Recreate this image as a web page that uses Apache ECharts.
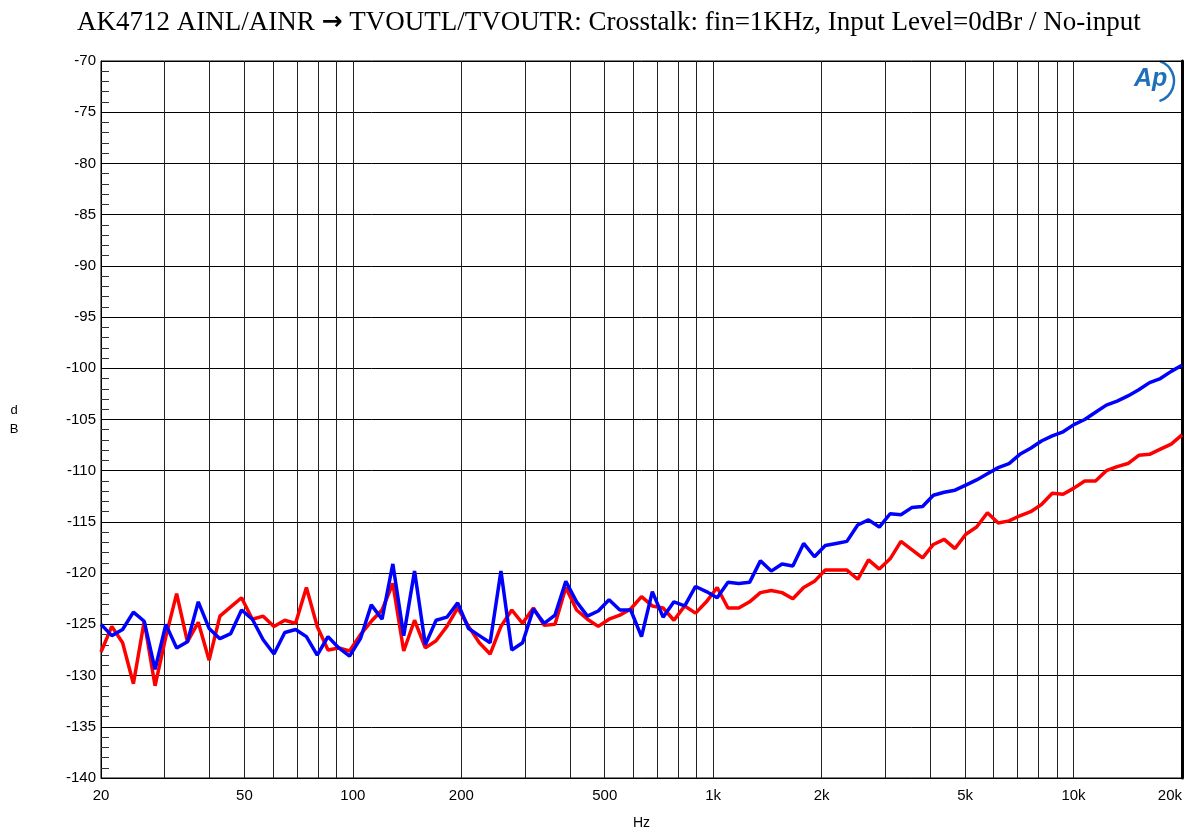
<!DOCTYPE html>
<html>
<head>
<meta charset="utf-8">
<script src="https://cdn.jsdelivr.net/npm/echarts@6/dist/echarts.min.js"></script>
<style>
  html, body { margin: 0; padding: 0; background: #fff; }
  #chart { width: 1190px; height: 837px; }
</style>
</head>
<body>
<div id="chart"></div>
<script>
// Sweep frequencies (Hz), log-spaced from 20 Hz to 20 kHz
const freqs = [
  20, 21.43, 22.96, 24.60, 26.36, 28.25, 30.27, 32.43, 34.75, 37.24,
  39.91, 42.76, 45.82, 49.10, 52.61, 56.37, 60.40, 64.72, 69.35, 74.31,
  79.62, 85.31, 91.41, 97.95, 104.95, 112.5, 120.5, 129.1, 138.4, 148.3,
  158.9, 170.2, 182.4, 195.4, 209.4, 224.4, 240.4, 257.6, 276.1, 295.8,
  317.0, 339.6, 363.9, 389.9, 417.8, 447.7, 479.7, 514.0, 550.8, 590.2,
  632.5, 677.7, 726.1, 778.1, 833.7, 893.4, 957.2, 1025.7, 1099.1, 1177.6,
  1261.9, 1352.1, 1448.8, 1552.4, 1663.5, 1782.5, 1909.9, 2046.6, 2193, 2349.8,
  2517.9, 2698, 2891, 3097.7, 3319.3, 3556.6, 3811, 4083.6, 4375.7, 4688.7,
  5023.8, 5383, 5768, 6180.5, 6622.6, 7096.3, 7603.8, 8147.6, 8730.4, 9354.8,
  10023.7, 10740.7, 11509, 12332, 13214, 14159, 15172, 16257, 17420, 18666,
  20000
];

// Crosstalk, red trace (dB)
const crosstalkRed = [
  -127.7, -125.2, -126.8, -130.8, -124.7, -131.0, -126.2, -122.0, -126.7, -124.8,
  -128.5, -124.2, -123.3, -122.4, -124.5, -124.2, -125.2, -124.6, -124.9, -121.4,
  -125.2, -127.5, -127.3, -127.6, -126.0, -124.7, -123.6, -121.0, -127.6, -124.6,
  -127.3, -126.6, -125.2, -123.4, -125.2, -126.8, -127.9, -125.2, -123.6, -124.9,
  -123.4, -125.1, -125.0, -121.4, -123.6, -124.5, -125.2, -124.5, -124.1, -123.5,
  -122.3, -123.2, -123.4, -124.6, -123.2, -123.9, -122.8, -121.4, -123.4, -123.4,
  -122.8, -121.9, -121.7, -121.9, -122.5, -121.4, -120.8, -119.7, -119.7, -119.7,
  -120.6, -118.7, -119.6, -118.6, -116.9, -117.7, -118.5, -117.2, -116.7, -117.6,
  -116.2, -115.5, -114.1, -115.1, -114.9, -114.4, -114.0, -113.3, -112.2, -112.3,
  -111.7, -111.0, -111.0, -110.0, -109.6, -109.3, -108.5, -108.4, -107.9, -107.4,
  -106.5
];

// Crosstalk, blue trace (dB)
const crosstalkBlue = [
  -125.0, -126.1, -125.5, -123.8, -124.7, -129.4, -125.0, -127.3, -126.7, -122.8,
  -125.4, -126.4, -125.9, -123.6, -124.5, -126.5, -127.9, -125.8, -125.5, -126.2,
  -128.0, -126.2, -127.3, -128.1, -126.4, -123.1, -124.5, -119.1, -126.1, -119.8,
  -127.0, -124.6, -124.3, -122.9, -125.4, -126.1, -126.8, -119.8, -127.5, -126.8,
  -123.5, -124.9, -124.1, -120.8, -122.8, -124.2, -123.7, -122.6, -123.6, -123.6,
  -126.2, -121.8, -124.3, -122.8, -123.2, -121.3, -121.8, -122.4, -120.9, -121.0,
  -120.9, -118.8, -119.8, -119.1, -119.3, -117.1, -118.4, -117.3, -117.1, -116.9,
  -115.3, -114.8, -115.5, -114.2, -114.3, -113.6, -113.5, -112.4, -112.1, -111.9,
  -111.4, -110.9, -110.3, -109.7, -109.3, -108.4, -107.8, -107.1, -106.6, -106.2,
  -105.5, -105.0, -104.3, -103.6, -103.2, -102.7, -102.1, -101.4, -101.0, -100.3,
  -99.7
];

// Labelled frequency ticks
const tickFreqs = [20, 50, 100, 200, 500, 1000, 2000, 5000, 10000, 20000];
const tickLabels = ['20', '50', '100', '200', '500', '1k', '2k', '5k', '10k', '20k'];

// Vertical grid lines (log decades)
const gridFreqs = [
  20, 30, 40, 50, 60, 70, 80, 90,
  100, 200, 300, 400, 500, 600, 700, 800, 900,
  1000, 2000, 3000, 4000, 5000, 6000, 7000, 8000, 9000,
  10000, 20000
];

const titleHead = 'AK4712 AINL/AINR ';
const titleTail = ' TVOUTL/TVOUTR: Crosstalk: fin=1KHz, Input Level=0dBr / No-input';

const lg = Math.log10;
const toPairs = vals => freqs.map((f, i) => [lg(f), vals[i]]);

const chart = echarts.init(document.getElementById('chart'), null, { renderer: 'canvas' });

const sansFont = '"Liberation Sans", Arial, Helvetica, sans-serif';
const serifFont = '"Liberation Serif", "Times New Roman", serif';

chart.setOption({
  animation: false,
  backgroundColor: '#ffffff',
  title: {
    text: '{t|' + titleHead + '}{a|\u2192}{t|' + titleTail + '}',
    left: 77,
    top: 9,
    padding: 0,
    textStyle: {
      fontWeight: 'normal',
      rich: {
        t: { fontFamily: serifFont, fontSize: 27, fontWeight: 'normal', color: '#000' },
        a: { fontFamily: '"DejaVu Sans", sans-serif', fontSize: 25, fontWeight: 'bold', color: '#000' }
      }
    }
  },
  grid: {
    left: 101,
    right: 8,
    top: 61,
    bottom: 59,
    show: true,
    borderColor: '#000',
    borderWidth: 1
  },
  xAxis: {
    type: 'value',
    min: lg(20),
    max: lg(20000),
    name: 'Hz',
    nameLocation: 'middle',
    nameGap: 38,
    nameTextStyle: { fontFamily: sansFont, fontSize: 14, color: '#000' },
    axisLine: { show: true, lineStyle: { color: '#000', width: 1 } },
    axisTick: { show: false, customValues: gridFreqs.map(lg) },
    splitLine: { show: true, lineStyle: { color: '#222', width: 1 } },
    axisLabel: {
      customValues: tickFreqs.map(lg),
      showMinLabel: true,
      showMaxLabel: true,
      alignMaxLabel: 'right',
      margin: 10,
      fontFamily: sansFont,
      fontSize: 15,
      color: '#000',
      formatter: v => {
        const k = tickFreqs.findIndex(f => Math.abs(lg(f) - v) < 1e-6);
        return k >= 0 ? tickLabels[k] : '';
      }
    }
  },
  yAxis: [
    {
      type: 'value',
      min: -140,
      max: -70,
      interval: 5,
      name: 'd\nB',
      nameLocation: 'middle',
      nameRotate: 0,
      nameGap: 87,
      nameTextStyle: {
        fontFamily: sansFont, fontSize: 13, color: '#000',
        align: 'center', verticalAlign: 'middle', lineHeight: 19
      },
      axisLine: { show: true, lineStyle: { color: '#000', width: 1 } },
      axisTick: { show: true, inside: true, length: 8, lineStyle: { color: '#000' } },
      minorTick: { show: true, splitNumber: 5, length: 8, lineStyle: { color: '#333', width: 1 } },
      splitLine: { show: true, lineStyle: { color: '#000', width: 1 } },
      axisLabel: {
        margin: 5,
        fontFamily: sansFont,
        fontSize: 15,
        color: '#000'
      }
    },
    {
      type: 'value',
      position: 'right',
      min: -140,
      max: -70,
      interval: 5,
      axisLine: { show: true, lineStyle: { color: '#000', width: 3 } },
      axisTick: { show: false },
      axisLabel: { show: false },
      splitLine: { show: false }
    }
  ],
  graphic: [
    {
      type: 'text',
      left: 1134,
      top: 67,
      style: {
        text: 'Ap',
        fontFamily: sansFont,
        fontSize: 25,
        fontStyle: 'italic',
        fontWeight: 'bold',
        fill: '#1f70b8'
      }
    },
    {
      type: 'arc',
      shape: { cx: 1153, cy: 81, r: 21, startAngle: -Math.PI / 2.6, endAngle: Math.PI / 2.6 },
      style: { stroke: '#1f70b8', lineWidth: 2.5, fill: null, lineCap: 'round' }
    }
  ],
  series: [
    {
      name: 'Crosstalk red',
      type: 'line',
      data: toPairs(crosstalkRed),
      showSymbol: false,
      lineStyle: { color: '#ff0000', width: 3.5 },
      itemStyle: { color: '#ff0000' },
      z: 3
    },
    {
      name: 'Crosstalk blue',
      type: 'line',
      data: toPairs(crosstalkBlue),
      showSymbol: false,
      lineStyle: { color: '#0000ff', width: 3.5 },
      itemStyle: { color: '#0000ff' },
      z: 4
    }
  ]
});
</script>
</body>
</html>
